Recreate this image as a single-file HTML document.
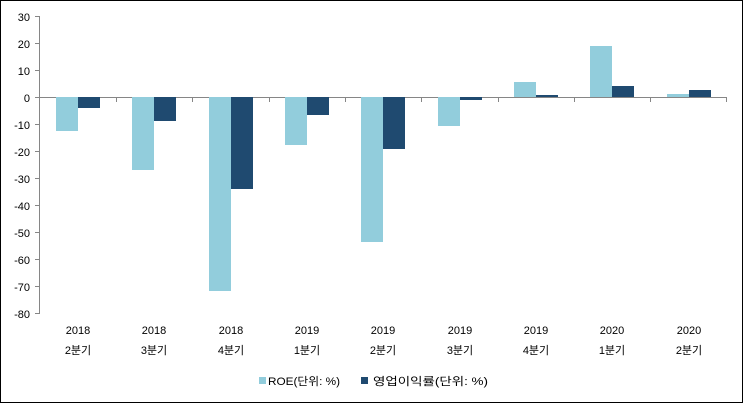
<!DOCTYPE html>
<html><head><meta charset="utf-8"><style>
html,body{margin:0;padding:0;background:#fff}
svg{display:block}
text{font-family:"Liberation Sans","Noto Sans CJK KR",sans-serif;font-size:11px;fill:#000}
</style></head><body>
<svg width="743" height="403" viewBox="0 0 743 403" xmlns="http://www.w3.org/2000/svg">
<rect x="0.5" y="0.5" width="742" height="402" fill="#fff" stroke="#000"/>
<line x1="39.5" y1="16" x2="39.5" y2="313" stroke="#868686"/>
<g stroke="#868686">
<line x1="35" y1="16.5" x2="40" y2="16.5"/><line x1="35" y1="43.5" x2="40" y2="43.5"/>
<line x1="35" y1="70.5" x2="40" y2="70.5"/><line x1="35" y1="97.5" x2="40" y2="97.5"/>
<line x1="35" y1="124.5" x2="40" y2="124.5"/><line x1="35" y1="151.5" x2="40" y2="151.5"/>
<line x1="35" y1="178.5" x2="40" y2="178.5"/><line x1="35" y1="205.5" x2="40" y2="205.5"/>
<line x1="35" y1="232.5" x2="40" y2="232.5"/><line x1="35" y1="259.5" x2="40" y2="259.5"/>
<line x1="35" y1="286.5" x2="40" y2="286.5"/><line x1="35" y1="313.5" x2="40" y2="313.5"/>
<line x1="39" y1="97.5" x2="727" y2="97.5"/>
<line x1="116.5" y1="97" x2="116.5" y2="102"/><line x1="192.5" y1="97" x2="192.5" y2="102"/>
<line x1="269.5" y1="97" x2="269.5" y2="102"/><line x1="345.5" y1="97" x2="345.5" y2="102"/>
<line x1="421.5" y1="97" x2="421.5" y2="102"/><line x1="498.5" y1="97" x2="498.5" y2="102"/>
<line x1="574.5" y1="97" x2="574.5" y2="102"/><line x1="650.5" y1="97" x2="650.5" y2="102"/>
<line x1="726.5" y1="97" x2="726.5" y2="102"/>
</g>
<g text-anchor="end">
<text x="30" y="21">30</text><text x="30" y="48">20</text><text x="30" y="75">10</text>
<text x="30" y="102">0</text><text x="30" y="129">-10</text><text x="30" y="156">-20</text>
<text x="30" y="183">-30</text><text x="30" y="210">-40</text><text x="30" y="237">-50</text>
<text x="30" y="264">-60</text><text x="30" y="291">-70</text><text x="30" y="318">-80</text>
</g>
<g fill="#92CDDC">
<rect x="56" y="97" width="22" height="34"/>
<rect x="132" y="97" width="22" height="73"/>
<rect x="209" y="97" width="22" height="194"/>
<rect x="285" y="97" width="22" height="48"/>
<rect x="361" y="97" width="22" height="145"/>
<rect x="438" y="97" width="22" height="29"/>
<rect x="514" y="82" width="22" height="15"/>
<rect x="590" y="46" width="22" height="51"/>
<rect x="667" y="94" width="22" height="3"/>
</g>
<g fill="#1F4A70">
<rect x="78" y="97" width="22" height="11"/>
<rect x="154" y="97" width="22" height="24"/>
<rect x="231" y="97" width="22" height="92"/>
<rect x="307" y="97" width="22" height="18"/>
<rect x="383" y="97" width="22" height="52"/>
<rect x="460" y="97" width="22" height="3"/>
<rect x="536" y="95" width="22" height="2"/>
<rect x="612" y="86" width="22" height="11"/>
<rect x="689" y="90" width="22" height="7"/>
</g>
<g text-anchor="middle">
<text x="78" y="334">2018</text><text x="78" y="354">2분기</text>
<text x="154" y="334">2018</text><text x="154" y="354">3분기</text>
<text x="231" y="334">2018</text><text x="231" y="354">4분기</text>
<text x="307" y="334">2019</text><text x="307" y="354">1분기</text>
<text x="383" y="334">2019</text><text x="383" y="354">2분기</text>
<text x="460" y="334">2019</text><text x="460" y="354">3분기</text>
<text x="536" y="334">2019</text><text x="536" y="354">4분기</text>
<text x="612" y="334">2020</text><text x="612" y="354">1분기</text>
<text x="689" y="334">2020</text><text x="689" y="354">2분기</text>
</g>
<rect x="259" y="377" width="7" height="7" fill="#92CDDC"/>
<text x="268" y="385" textLength="72" lengthAdjust="spacingAndGlyphs">ROE(단위: %)</text>
<rect x="361" y="377" width="7" height="7" fill="#1F4A70"/>
<text x="373" y="385" textLength="115" lengthAdjust="spacingAndGlyphs">영업이익률(단위: %)</text>
</svg>
</body></html>
